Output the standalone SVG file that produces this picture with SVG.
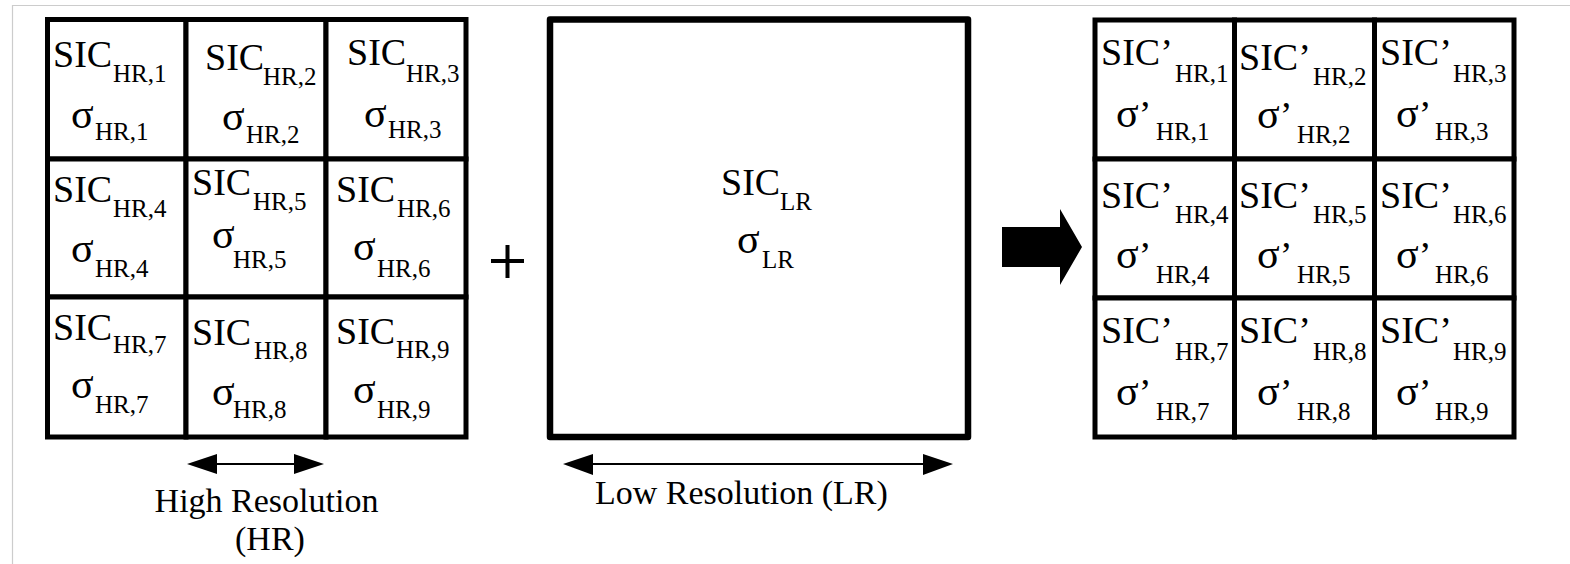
<svg xmlns="http://www.w3.org/2000/svg" width="1570" height="564" viewBox="0 0 1570 564">
<style>
.cell{fill:#fff;stroke:#000;stroke-width:5;stroke-linejoin:miter}
.big{fill:#fff;stroke:#000;stroke-width:6.5;stroke-linejoin:round}
text{font-family:"Liberation Serif","Times New Roman",serif;fill:#000}
.m{font-size:38px}
.g{font-size:42px}
.s{font-size:25px}
.l{font-size:34px}
.conn{stroke:#000;stroke-width:1.8;fill:none}
.head{fill:#000}
</style>
<rect x="0" y="0" width="1570" height="564" fill="#fff"/>
<path d="M12.5 564 V5.5 H1570" fill="none" stroke="#cccccc" stroke-width="1.2"/>

<g id="hr-grid">
<g id="hr1"><rect class="cell" x="47.5" y="19.5" width="138.5" height="139.5"/><text class="m" x="53" y="67">SIC</text><text class="s" x="113" y="82">HR,1</text><text class="g" x="71" y="128">σ</text><text class="s" x="95" y="140">HR,1</text></g>
<g id="hr2"><rect class="cell" x="186" y="19.5" width="140" height="139.5"/><text class="m" x="205" y="70">SIC</text><text class="s" x="263" y="85">HR,2</text><text class="g" x="222" y="130">σ</text><text class="s" x="246" y="143">HR,2</text></g>
<g id="hr3"><rect class="cell" x="326" y="19.5" width="140" height="139.5"/><text class="m" x="347" y="65">SIC</text><text class="s" x="406" y="82">HR,3</text><text class="g" x="364" y="127">σ</text><text class="s" x="388" y="138">HR,3</text></g>
<g id="hr4"><rect class="cell" x="47.5" y="159" width="138.5" height="138"/><text class="m" x="53" y="202">SIC</text><text class="s" x="113" y="217">HR,4</text><text class="g" x="71" y="262">σ</text><text class="s" x="95" y="277">HR,4</text></g>
<g id="hr5"><rect class="cell" x="186" y="159" width="140" height="138"/><text class="m" x="192" y="195">SIC</text><text class="s" x="253" y="210">HR,5</text><text class="g" x="212" y="248">σ</text><text class="s" x="233" y="268">HR,5</text></g>
<g id="hr6"><rect class="cell" x="326" y="159" width="140" height="138"/><text class="m" x="336" y="202">SIC</text><text class="s" x="397" y="217">HR,6</text><text class="g" x="353" y="260">σ</text><text class="s" x="377" y="277">HR,6</text></g>
<g id="hr7"><rect class="cell" x="47.5" y="297" width="138.5" height="140"/><text class="m" x="53" y="340">SIC</text><text class="s" x="113" y="353">HR,7</text><text class="g" x="71" y="398">σ</text><text class="s" x="95" y="413">HR,7</text></g>
<g id="hr8"><rect class="cell" x="186" y="297" width="140" height="140"/><text class="m" x="192" y="345">SIC</text><text class="s" x="254" y="359">HR,8</text><text class="g" x="212" y="405">σ</text><text class="s" x="233" y="418">HR,8</text></g>
<g id="hr9"><rect class="cell" x="326" y="297" width="140" height="140"/><text class="m" x="336" y="344">SIC</text><text class="s" x="396" y="358">HR,9</text><text class="g" x="353" y="403">σ</text><text class="s" x="377" y="418">HR,9</text></g>
</g>

<g id="plus"><path d="M491 261 H524 M507.5 245 V278" stroke="#000" stroke-width="4" fill="none"/></g>

<g id="lr-box"><rect class="big" x="550" y="19.5" width="418" height="417.5"/><text class="m" x="721" y="195">SIC</text><text class="s" x="780" y="210">LR</text><text class="g" x="737" y="253">σ</text><text class="s" x="762" y="268">LR</text></g>

<g id="out-grid">
<g id="out1"><rect class="cell" x="1095" y="20" width="139.5" height="139"/><text class="m" x="1101" y="65">SIC’</text><text class="s" x="1175" y="82">HR,1</text><text class="m" x="1116" y="127"><tspan class="g">σ</tspan>’</text><text class="s" x="1156" y="140">HR,1</text></g>
<g id="out2"><rect class="cell" x="1234.5" y="20" width="140" height="139"/><text class="m" x="1239" y="70">SIC’</text><text class="s" x="1313" y="85">HR,2</text><text class="m" x="1257" y="128"><tspan class="g">σ</tspan>’</text><text class="s" x="1297" y="143">HR,2</text></g>
<g id="out3"><rect class="cell" x="1374.5" y="20" width="139.5" height="139"/><text class="m" x="1380" y="65">SIC’</text><text class="s" x="1453" y="82">HR,3</text><text class="m" x="1396" y="127"><tspan class="g">σ</tspan>’</text><text class="s" x="1435" y="140">HR,3</text></g>
<g id="out4"><rect class="cell" x="1095" y="159" width="139.5" height="139"/><text class="m" x="1101" y="208">SIC’</text><text class="s" x="1175" y="223">HR,4</text><text class="m" x="1116" y="268"><tspan class="g">σ</tspan>’</text><text class="s" x="1156" y="283">HR,4</text></g>
<g id="out5"><rect class="cell" x="1234.5" y="159" width="140" height="139"/><text class="m" x="1239" y="208">SIC’</text><text class="s" x="1313" y="223">HR,5</text><text class="m" x="1257" y="268"><tspan class="g">σ</tspan>’</text><text class="s" x="1297" y="283">HR,5</text></g>
<g id="out6"><rect class="cell" x="1374.5" y="159" width="139.5" height="139"/><text class="m" x="1380" y="208">SIC’</text><text class="s" x="1453" y="223">HR,6</text><text class="m" x="1396" y="268"><tspan class="g">σ</tspan>’</text><text class="s" x="1435" y="283">HR,6</text></g>
<g id="out7"><rect class="cell" x="1095" y="298" width="139.5" height="139"/><text class="m" x="1101" y="343">SIC’</text><text class="s" x="1175" y="360">HR,7</text><text class="m" x="1116" y="405"><tspan class="g">σ</tspan>’</text><text class="s" x="1156" y="420">HR,7</text></g>
<g id="out8"><rect class="cell" x="1234.5" y="298" width="140" height="139"/><text class="m" x="1239" y="343">SIC’</text><text class="s" x="1313" y="360">HR,8</text><text class="m" x="1257" y="405"><tspan class="g">σ</tspan>’</text><text class="s" x="1297" y="420">HR,8</text></g>
<g id="out9"><rect class="cell" x="1374.5" y="298" width="139.5" height="139"/><text class="m" x="1380" y="343">SIC’</text><text class="s" x="1453" y="360">HR,9</text><text class="m" x="1396" y="405"><tspan class="g">σ</tspan>’</text><text class="s" x="1435" y="420">HR,9</text></g>
</g>

<g id="connectors">
<g id="hr-arrow"><line class="conn" x1="210" y1="464" x2="300" y2="464"/><polygon class="head" points="187,464 217,454 217,474"/><polygon class="head" points="324,464 294,454 294,474"/></g>
<g id="lr-arrow"><line class="conn" x1="585" y1="464" x2="930" y2="464"/><polygon class="head" points="563,464 593,454 593,475"/><polygon class="head" points="953,464 923,454 923,475"/></g>
<g id="result-arrow"><polygon class="head" points="1002,227 1060,227 1060,209 1082,247 1060,285 1060,267 1002,267"/></g>
</g>

<g id="labels">
<text class="l" x="266.5" y="512" text-anchor="middle">High Resolution</text>
<text class="l" x="270" y="550" text-anchor="middle">(HR)</text>
<text class="l" x="595" y="504">Low Resolution (LR)</text>
</g>
</svg>
